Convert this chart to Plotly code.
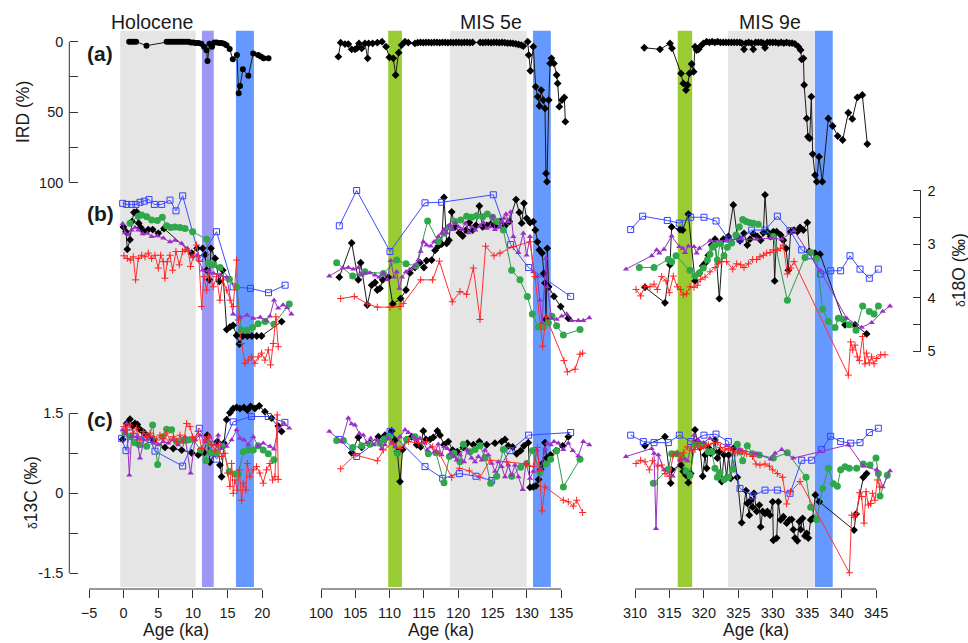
import plotly.graph_objects as go

# ---------------- DATA (age in ka, value) ----------------
# Holocene column
HOL_IRD = [(0.8,0),(1.1,0),(1.45,0),(1.8,0),(3.3,2.8),(6.2,0),(6.55,0),(6.9,0),(7.25,0),(7.6,0),(7.95,0),(8.3,0),(8.65,0),(9.0,0),(9.35,0),(9.7,0.5),(10.05,0.5),(10.4,1),(10.8,1),(11.2,1.5),(11.6,3.5),(11.95,6),(12.1,13.7),(12.4,1.5),(12.75,3.5),(13.1,0.5),(13.45,0.5),(13.8,1),(14.15,1),(14.5,1.5),(14.85,2.5),(15.3,5.2),(15.75,12.5),(16.35,9.4),(16.6,36.6),(16.8,31.4),(17.2,19.6),(18.0,24.1),(18.7,8.3),(19.4,9.4),(19.8,10.5),(20.2,11.8),(20.9,11.8)]

HOL_O_BLACK = [(-0.04,2.68),(0.34,2.77),(0.53,3.10),(0.92,2.92),(1.2,2.58),(1.49,2.41),(1.88,2.40),(2.17,2.61),(2.46,2.69),(2.94,2.77),(3.56,2.73),(4.19,2.73),(5.0,2.80),(5.82,2.71),(9.82,3.17),(10.6,3.08),(11.4,3.08),(11.74,3.20),(11.98,3.49),(12.36,3.67),(12.6,3.08),(13.2,3.27),(13.8,3.70),(14.3,3.49),(14.87,4.60),(15.35,4.55),(15.8,4.52),(16.3,4.71),(16.7,4.87),(17.2,4.72),(17.85,4.72),(18.5,4.72),(19.2,4.72),(19.9,4.72),(22.8,4.45)]
HOL_O_BLUE = [(-0.14,2.24),(0.44,2.26),(1.16,2.26),(1.78,2.26),(2.36,2.22),(2.98,2.20),(3.66,2.17),(4.43,2.26),(5.49,2.26),(6.69,2.18),(7.55,2.38),(8.52,2.10),(11.0,3.27),(13.4,2.77),(15.8,3.80),(18.3,3.83),(20.9,3.91),(23.3,3.77)]
HOL_O_GREEN = [(0.92,2.61),(2.12,2.48),(2.6,2.46),(3.33,2.49),(4.04,2.55),(4.86,2.56),(5.58,2.50),(6.2,2.66),(6.78,2.69),(7.41,2.68),(8.13,2.69),(8.85,2.71),(9.96,2.77),(11.98,2.91),(12.2,3.36),(13.0,3.39),(13.9,3.44),(15.25,3.66),(16.3,3.81),(17.0,4.61),(17.8,4.61),(18.6,4.56),(19.4,4.49),(20.4,4.45),(21.7,4.50),(23.9,4.12)]
HOL_O_PURPLE = [(-0.14,2.62),(0.19,2.79),(0.68,2.83),(1.16,2.74),(1.64,2.69),(2.12,2.74),(2.75,2.81),(3.41,2.80),(4.04,2.86),(4.86,2.85),(5.73,2.89),(6.69,2.96),(7.41,2.93),(8.37,2.99),(9.2,3.08),(9.96,3.24),(10.6,3.21),(11.4,3.49),(12.2,3.50),(13.0,3.55),(13.9,3.58),(14.87,3.62),(15.8,4.31),(16.8,4.37),(17.8,4.33),(18.7,4.39),(19.7,4.37),(20.6,4.43),(21.1,4.35),(21.7,4.05),(22.3,4.20),(23.0,4.14),(23.6,4.19),(24.2,4.31)]
HOL_O_RED = [(0.05,3.22),(0.53,3.27),(1.01,3.30),(1.39,3.24),(1.73,3.67),(2.12,3.27),(2.6,3.21),(3.08,3.24),(3.56,3.17),(4.04,3.27),(4.52,3.21),(5.0,3.45),(5.34,3.21),(5.72,3.33),(5.96,3.64),(6.3,3.33),(6.68,3.21),(7.07,3.49),(7.55,3.14),(8.03,3.39),(8.51,3.14),(8.85,3.11),(9.33,3.14),(9.66,3.42),(10.05,3.24),(10.53,3.02),(10.87,3.30),(11.25,4.17),(11.59,3.61),(11.97,3.86),(12.36,3.55),(12.93,3.80),(13.41,3.61),(13.89,4.05),(14.28,3.67),(14.86,3.86),(15.34,4.05),(15.82,4.17),(16.3,3.30),(16.54,4.42),(17.02,4.86),(17.5,5.23),(17.98,5.17),(18.46,5.11),(18.94,5.23),(19.42,5.11),(19.9,5.04),(20.38,5.17),(20.87,4.98),(21.2,5.26),(21.59,4.86),(21.97,4.36),(22.31,4.92)]

HOL_C_BLACK = [(-0.14,1.01),(0.43,1.31),(0.91,1.39),(1.3,1.26),(1.63,1.31),(1.97,1.29),(2.36,1.2),(2.93,1.14),(3.56,1.06),(4.28,0.99),(5.96,0.86),(7.16,0.84),(8.37,0.81),(9.8,0.76),(10.77,0.72),(11.59,0.76),(12.07,1.09),(12.45,0.58),(13.17,0.75),(13.51,0.97),(13.89,0.53),(14.13,0.31),(14.47,0.94),(14.86,1.38),(15.34,1.51),(15.82,1.59),(16.3,1.61),(16.78,1.59),(17.36,1.61),(17.84,1.56),(18.32,1.63),(18.94,1.59),(19.57,1.64),(20.38,1.53),(21.35,1.41),(22.31,1.26),(22.79,1.16)]
HOL_C_BLUE = [(-0.29,1.03),(0.34,0.80),(0.91,1.13),(1.63,1.06),(2.36,1.0),(3.08,1.06),(3.8,1.01),(4.52,0.79),(8.51,0.51),(10.91,1.22),(13.41,0.64),(15.82,1.34),(18.46,1.44),(20.87,1.44),(23.27,1.33)]
HOL_C_GREEN = [(0.19,1.13),(0.91,1.06),(1.63,0.95),(2.26,0.91),(3.32,0.88),(4.18,1.28),(4.9,0.54),(5.63,1.06),(6.2,1.2),(6.92,1.19),(7.64,0.97),(8.51,1.0),(9.33,1.0),(10.05,1.01),(11.1,0.81),(11.88,0.61),(12.21,0.94),(12.55,0.76),(13.32,0.76),(14.28,0.88),(15.24,0.41),(16.06,0.36),(16.54,0.36),(17.26,0.78),(17.98,0.81),(18.7,0.81),(19.42,0.89),(20.14,0.81),(20.87,0.74),(21.68,0.63)]
HOL_C_PURPLE = [(-0.14,1.19),(0.19,1.13),(0.43,1.31),(0.82,0.34),(1.15,1.06),(1.88,1.06),(2.36,0.66),(2.93,1.0),(3.56,1.03),(4.28,0.94),(5.0,0.91),(5.72,0.97),(6.44,0.94),(7.16,1.0),(7.88,0.91),(8.85,1.06),(9.66,0.38),(10.29,1.0),(11.01,1.09),(11.73,0.97),(12.45,1.06),(13.17,0.91),(13.65,1.09),(14.13,0.84),(14.86,0.88),(15.58,1.0),(16.3,1.19),(16.78,1.03),(17.36,1.0),(17.98,0.91),(18.7,1.06),(19.42,0.88),(20.14,0.94),(21.11,0.88),(21.68,0.83),(22.31,1.22),(23.13,1.31),(23.89,1.22)]
HOL_C_RED = [(0.05,1.25),(0.43,1.19),(0.91,1.28),(1.39,1.13),(1.88,1.22),(2.36,1.0),(2.84,1.16),(3.32,1.06),(3.8,1.13),(4.28,1.06),(4.76,1.0),(5.24,1.09),(5.72,1.03),(6.2,1.13),(6.68,1.0),(7.16,1.06),(7.64,0.97),(8.13,1.09),(8.61,0.94),(9.09,1.31),(9.57,1.25),(9.95,1.06),(10.29,1.0),(10.77,1.16),(11.25,0.84),(11.73,1.0),(12.21,1.06),(12.69,0.91),(13.17,0.81),(13.65,0.91),(14.13,0.69),(14.62,0.75),(15.0,0.38),(15.34,0.13),(15.58,0.56),(15.82,0.0),(16.06,0.25),(16.39,0.06),(16.68,0.44),(17.02,-0.13),(17.26,0.19),(17.64,0.06),(17.84,0.56),(18.22,0.31),(18.7,0.44),(19.18,0.5),(19.66,0.38),(20.14,0.19),(20.62,0.44),(21.11,0.56),(21.49,0.25),(21.83,0.31),(22.16,1.47),(22.31,0.26)]

# MIS 5e column
M5_IRD = [(102.53,10.6),(102.87,0.7),(103.5,1.7),(103.98,1.7),(104.47,5.4),(104.96,5.4),(105.3,4.3),(105.54,1.2),(105.93,4.7),(106.41,1.2),(106.8,11.8),(106.95,1.2),(107.53,1.2),(108.21,0.7),(108.89,0),(109.48,3.5),(109.96,11.1),(110.54,11.8),(110.88,23.6),(111.32,7.8),(111.76,2.4),(112.24,0),(112.73,0.7),(113.7,1.2),(114.1,0.7),(114.5,0.5),(114.9,0.7),(115.3,0.5),(115.7,0.5),(116.1,0.7),(116.5,0.5),(116.9,0.5),(117.3,0.7),(117.7,0.5),(118.1,0.5),(118.5,0.7),(118.9,0.5),(119.3,0.7),(119.7,0.5),(120.1,0.5),(120.5,0.7),(120.9,0.5),(121.3,0.5),(121.7,0.7),(122.1,0.5),(123.2,0.5),(123.6,0.7),(124.0,0.5),(124.4,0.5),(124.8,0.7),(125.2,0.5),(125.6,0.5),(126.0,0.7),(126.4,0.5),(126.8,0.7),(127.2,1.0),(127.6,1.0),(128.0,1.2),(128.4,1.5),(128.8,2.0),(129.2,2.4),(129.5,3.1),(130.13,0),(130.27,9.5),(130.52,20.6),(130.95,3.5),(131.29,31.9),(131.58,39.0),(131.83,45.6),(132.1,34.3),(132.4,41.4),(132.65,47.3),(132.8,93.4),(132.94,99.3),(133.2,41.4),(133.4,15.4),(133.6,11.8),(133.96,15.4),(134.35,23.6),(134.5,29.6),(134.74,46.1),(135.13,41.4),(135.47,39.5),(135.62,56.7)]

M5_O_BLACK = [(102.67,3.62),(104.47,2.98),(105.44,3.67),(105.78,3.35),(106.75,4.14),(107.39,3.77),(107.87,3.72),(108.21,3.86),(108.6,3.83),(108.99,3.67),(109.82,3.62),(110.45,4.12),(111.61,4.02),(112.39,3.86),(112.97,3.54),(113.7,3.44),(114.43,3.35),(115.01,3.44),(115.4,3.31),(116.13,3.30),(116.62,3.12),(117.1,3.04),(117.59,3.0),(117.93,2.13),(118.32,2.99),(118.66,2.93),(119.05,2.40),(119.53,2.68),(120.17,2.79),(120.65,2.85),(121.14,2.74),(121.62,2.60),(122.11,2.74),(122.59,2.65),(123.08,2.29),(123.57,2.68),(124.15,2.65),(124.73,2.63),(125.36,2.66),(126.09,2.58),(126.82,2.66),(127.45,2.58),(128.43,2.17),(128.91,2.41),(129.25,2.61),(129.59,2.24),(129.98,2.52),(130.47,2.60),(130.95,2.58),(131.24,2.74),(131.54,2.96),(131.83,3.11),(132.22,3.17),(132.46,3.55),(132.65,3.73),(132.8,4.41),(132.99,3.08),(133.19,3.80),(133.96,3.98),(134.94,4.17),(136.05,4.39)]
M5_O_BLUE = [(102.67,2.66),(105.2,2.0),(110.06,3.14),(115.16,2.23),(117.59,2.22),(125.12,2.08),(127.65,3.01),(130.27,3.44),(136.39,3.98)]
M5_O_GREEN = [(102.28,3.35),(104.62,3.60),(106.41,3.52),(109.09,3.55),(111.03,3.30),(112.39,3.37),(113.85,3.41),(115.55,2.57),(117.1,2.96),(117.93,2.80),(118.71,2.68),(119.53,2.58),(120.36,2.55),(121.23,2.48),(121.96,2.50),(122.69,2.47),(123.57,2.49),(124.25,2.44),(125.02,2.50),(125.7,2.58),(126.58,2.74),(127.79,3.49),(129.0,3.67),(130.08,3.98),(130.81,4.31),(131.68,4.55),(132.41,4.55),(133.14,4.47),(133.67,4.35),(134.35,4.53),(135.33,4.70),(137.76,4.60)]
M5_O_PURPLE = [(101.21,3.60),(103.16,3.45),(103.98,3.44),(104.71,3.47),(105.44,3.44),(105.93,3.58),(106.41,3.54),(107.14,3.54),(107.87,3.58),(108.5,3.62),(109.09,3.55),(109.67,3.67),(110.16,3.31),(110.64,3.62),(111.03,3.52),(111.42,3.83),(111.81,3.62),(112.39,3.52),(112.97,3.47),(113.7,3.41),(114.19,3.30),(114.53,3.14),(114.92,2.96),(115.4,3.02),(115.99,3.04),(116.47,2.96),(117.1,2.86),(117.59,2.80),(117.93,2.73),(118.32,2.79),(118.71,2.65),(119.19,2.73),(119.58,2.61),(120.07,2.68),(120.55,2.73),(121.04,2.61),(121.53,2.79),(122.01,2.68),(122.5,2.74),(123.18,2.66),(123.66,2.60),(124.15,2.71),(124.64,2.68),(125.02,2.48),(125.36,2.73),(126.0,2.69),(126.38,2.58),(126.68,2.52),(126.97,2.44),(127.31,2.58),(127.65,2.40),(128.04,2.86),(128.77,3.16),(129.49,2.80),(129.98,3.21),(130.47,2.86),(130.95,3.52),(131.54,3.61),(131.93,4.05),(132.22,4.47),(132.8,3.27),(132.99,3.80),(133.62,4.39),(134.35,4.41),(135.08,4.35),(135.81,4.31),(136.54,4.43),(137.51,4.43),(138.24,4.43),(139.11,4.38)]
M5_O_RED = [(102.87,4.02),(104.86,3.98),(106.8,4.12),(108.21,4.18),(110.06,4.18),(111.52,4.17),(112.0,4.11),(114.53,3.67),(116.28,3.67),(117.25,3.32),(119.14,4.08),(120.26,3.89),(121.23,3.94),(122.21,3.45),(123.18,4.41),(124.0,3.04),(125.22,3.22),(126.09,3.17),(128.04,3.05),(130.47,2.96),(131.2,3.61),(132.31,4.91),(132.8,4.36),(135.42,5.18),(135.91,5.39),(137.03,5.34),(137.76,5.06),(138.14,5.04)]

M5_C_BLACK = [(104.47,0.76),(105.44,1.05),(105.93,0.86),(107.14,0.94),(108.36,1.06),(109.33,1.09),(110.3,1.17),(110.79,1.0),(111.13,0.78),(111.52,0.22),(111.9,0.82),(112.49,1.01),(113.22,1.06),(113.95,0.91),(114.53,0.87),(114.92,1.17),(115.31,1.01),(115.89,1.01),(116.38,1.05),(116.96,1.17),(117.35,1.09),(117.93,0.91),(118.56,0.97),(119.19,0.81),(119.87,0.78),(120.75,0.86),(121.33,0.94),(122.21,0.91),(123.08,0.97),(124.15,0.91),(125.36,0.94),(126.34,0.97),(126.82,1.01),(127.31,0.89),(127.94,0.87),(128.52,0.74),(129.1,0.8),(129.59,0.89),(130.22,0.95),(130.47,0.11),(130.95,0.12),(131.34,0.14),(131.73,0.26),(132.02,0.45),(132.31,0.56),(132.65,0.95),(132.9,0.66),(133.48,0.72),(134.26,0.8),(135.23,0.89),(136.05,1.06)]
M5_C_BLUE = [(102.67,1.01),(105.2,0.69),(110.06,1.16),(115.16,0.5),(117.74,0.28),(120.17,0.37),(122.59,0.32),(124.88,0.24),(127.55,0.8),(130.27,1.09),(136.39,1.14)]
M5_C_GREEN = [(102.28,0.99),(103.26,0.99),(104.62,0.86),(105.93,0.89),(107.14,0.92),(108.6,0.94),(109.18,1.01),(109.96,1.06),(111.13,0.75),(112.49,1.01),(113.7,1.06),(115.65,0.74),(116.76,0.76),(117.93,0.2),(118.71,0.69),(119.39,0.75),(120.26,0.59),(120.75,0.92),(121.72,0.78),(122.45,0.82),(123.18,0.89),(123.91,0.67),(124.73,0.19),(125.61,0.32),(126.58,0.82),(127.79,0.32),(129.1,0.49),(129.98,0.56),(130.81,0.8),(131.93,0.39),(132.8,0.55),(133.48,0.64),(134.35,0.8),(135.33,0.12),(137.76,0.64)]
M5_C_PURPLE = [(101.21,1.16),(103.01,0.97),(103.98,1.41),(104.47,1.3),(104.96,1.28),(105.59,1.12),(106.17,1.09),(106.66,0.95),(107.24,1.03),(107.73,0.91),(108.21,1.0),(108.84,0.84),(109.33,0.91),(109.82,1.03),(110.3,0.94),(110.79,0.87),(111.52,1.06),(112.24,1.19),(112.73,1.14),(113.46,1.06),(113.95,1.0),(114.43,1.03),(115.01,0.94),(115.5,0.81),(115.99,0.87),(116.62,0.78),(117.1,0.92),(117.59,0.72),(117.93,0.87),(118.42,0.84),(118.9,0.75),(119.39,0.69),(119.78,0.62),(120.26,0.72),(120.85,0.59),(121.33,0.81),(121.96,0.66),(122.45,0.59),(122.93,0.69),(123.42,0.62),(123.91,0.81),(124.39,0.72),(124.88,0.56),(125.36,0.41),(125.85,0.59),(126.34,0.5),(126.82,0.31),(127.31,0.53),(127.79,0.34),(128.28,0.53),(128.77,0.31),(129.4,0.07),(129.88,0.56),(130.47,0.28),(130.95,0.41),(131.44,0.81),(132.02,0.44),(132.65,0.84),(132.99,0.94),(133.48,0.91),(133.96,0.97),(134.6,0.94),(135.33,0.82),(136.05,0.94),(136.69,0.8),(137.51,0.7),(138.24,0.97),(139.11,0.91)]
M5_C_RED = [(102.87,0.46),(104.96,0.72),(108.21,0.61),(109.09,0.81),(110.54,0.94),(111.52,0.84),(112.73,0.97),(114.19,0.94),(115.4,0.97),(116.28,0.87),(117.25,0.75),(119.05,0.3),(120.17,0.47),(121.62,0.42),(123.18,0.3),(124.64,0.62),(127.07,0.59),(129.98,0.55),(130.95,0.5),(131.54,0.86),(131.83,0.42),(132.22,-0.33),(132.65,0.12),(135.33,-0.13),(136.05,-0.16),(136.78,-0.24),(137.27,-0.13),(138.14,-0.36)]

# MIS 9e column
M9_IRD = [(311.35,4.3),(313.63,5.4),(315.08,1.2),(315.37,4.7),(316.68,22.5),(317.01,29.6),(317.4,34.3),(317.64,30.7),(317.89,22.5),(318.22,15.8),(318.51,21.3),(318.71,3.5),(318.95,5.9),(319.24,5.4),(319.53,3.1),(319.92,1.2),(320.4,0),(320.8,0.5),(321.2,0),(321.6,0.5),(322.0,0),(322.4,0.5),(322.8,0.5),(323.2,0.5),(323.6,0.5),(324.0,0.5),(324.4,0.5),(324.8,0.5),(325.2,0.5),(325.5,1),(325.82,5.4),(326.1,1),(326.5,0.5),(326.9,1),(327.17,5.4),(327.5,0.5),(327.9,0.5),(328.3,0.5),(328.6,1),(328.87,4.3),(329.2,0.5),(329.6,0.5),(330.0,0.5),(330.4,0.5),(330.8,1),(331.2,0.5),(331.6,1),(332.0,0.5),(332.4,1),(332.8,1),(333.2,1.5),(333.71,3.5),(334.04,5.9),(334.19,12.5),(334.45,11.8),(334.55,30.7),(334.92,54.4),(335.11,67.4),(335.35,68.6),(335.59,39.0),(335.79,79.7),(336.13,94.6),(336.37,99.3),(336.71,81.6),(337.19,99.3),(338.06,54.4),(338.69,59.8),(339.42,66.9),(340.14,69.7),(340.96,50.4),(341.54,54.8),(342.27,39.5),(342.99,37.8),(343.72,72.6)]

M9_O_BLACK = [(311.45,3.81),(314.35,4.10),(315.08,3.39),(315.32,2.68),(316.53,2.73),(316.92,2.74),(317.74,2.44),(318.71,3.69),(319.34,3.54),(319.82,3.41),(320.16,3.36),(320.64,3.21),(321.13,3.02),(321.61,2.91),(322.24,4.02),(322.82,2.91),(323.55,2.86),(324.27,2.27),(324.85,2.86),(325.24,2.94),(325.82,2.80),(326.3,3.02),(326.69,2.91),(327.17,2.81),(327.76,2.86),(328.24,2.93),(328.63,2.79),(328.87,2.08),(329.21,2.77),(329.69,2.86),(330.08,2.77),(330.27,3.69),(330.56,2.77),(331.14,2.83),(331.53,2.93),(331.92,3.08),(332.25,3.49),(332.59,2.77),(333.08,2.74),(333.56,2.77),(333.95,2.69),(334.43,2.74),(335.01,2.60),(335.3,3.14),(336.12,3.17),(336.85,3.19),(340.48,4.51),(341.93,4.51),(343.62,4.68)]
M9_O_BLUE = [(309.37,2.73),(311.11,2.48),(314.69,2.56),(316.43,2.61),(318.08,2.50),(320.01,2.50),(321.76,2.57),(323.55,2.91),(325.24,2.91),(326.93,2.74),(328.87,2.74),(330.66,2.48),(332.5,2.75),(334.19,3.11),(335.5,3.22),(336.95,3.56),(338.4,3.50),(339.85,3.50),(341.2,3.22),(342.66,3.47),(344.01,3.64),(345.32,3.47)]
M9_O_GREEN = [(310.63,3.44),(312.76,3.44),(314.84,3.29),(315.32,3.33),(315.95,3.22),(317.98,3.49),(318.71,3.60),(319.34,3.54),(319.92,3.45),(320.5,3.30),(320.89,3.19),(321.27,3.06),(321.61,3.02),(321.95,3.30),(322.34,2.99),(322.92,3.22),(323.4,3.06),(324.03,2.98),(324.66,2.83),(325.14,2.68),(325.63,2.54),(326.11,2.58),(326.59,2.60),(327.17,2.61),(327.9,2.63),(330.08,2.86),(332.11,4.05),(334.67,3.25),(335.5,3.16),(336.37,3.27),(337.24,4.22),(338.06,4.45),(339.03,4.56),(339.51,4.39),(340.24,4.41),(341.11,4.51),(342.08,4.61),(343.04,4.16),(344.01,4.26),(344.69,4.31),(345.32,4.16)]
M9_O_PURPLE = [(308.69,3.47),(312.42,3.22),(313.14,3.11),(313.53,3.17),(314.21,3.10),(315.32,2.85),(316.43,3.05),(316.92,3.08),(317.26,3.16),(317.74,3.04),(318.56,3.05),(318.95,3.17),(319.34,3.08),(320.89,2.94),(323.3,2.93),(325.24,2.91),(327.66,2.91),(329.69,2.89),(331.29,2.91),(333.08,2.75),(336.85,3.49),(340.72,4.39),(342.9,4.56),(344.35,4.47),(345.95,4.26),(347.01,4.16)]
M9_O_RED = [(310.15,3.85),(310.82,3.97),(311.45,3.79),(312.18,3.80),(312.76,3.75),(313.24,3.85),(313.87,3.61),(314.5,3.69),(314.98,3.91),(315.56,3.60),(316.14,3.80),(316.63,3.85),(317.01,3.95),(317.5,3.93),(317.98,3.80),(318.56,3.81),(319.05,3.77),(319.53,3.66),(320.16,3.62),(320.89,3.52),(321.61,3.44),(322.09,3.37),(322.58,3.33),(323.3,3.33),(324.18,3.47),(324.76,3.37),(325.34,3.39),(325.82,3.44),(326.45,3.37),(327.08,3.29),(327.66,3.29),(328.14,3.24),(328.63,3.21),(329.11,3.17),(329.59,3.16),(330.08,3.11),(330.66,3.12),(331.14,3.08),(331.53,3.02),(332.11,3.56),(332.59,3.45),(333.08,3.33),(340.96,5.45),(341.3,4.83),(341.59,4.98),(341.93,4.89),(342.27,5.11),(342.56,5.18),(343.04,4.73),(343.38,5.24),(343.62,5.04),(344.01,5.22),(344.35,5.11),(344.69,5.24),(345.08,5.14),(345.66,5.07),(346.28,5.07)]

M9_C_BLACK = [(311.45,0.89),(314.35,1.06),(315.18,0.19),(315.32,0.44),(316.68,0.53),(317.01,0.41),(317.4,0.34),(317.74,0.2),(318.08,0.37),(318.71,1.19),(319.05,0.97),(319.43,0.86),(319.82,0.32),(320.16,0.72),(320.4,0.47),(320.64,0.86),(320.98,0.75),(321.37,0.78),(321.61,1.0),(321.95,0.66),(322.24,0.78),(322.58,0.22),(322.92,0.72),(323.3,0.3),(323.59,0.72),(323.88,0.28),(324.27,0.84),(324.85,0.3),(325.48,-0.55),(326.11,0.05),(326.3,-0.19),(326.59,-0.41),(326.79,-0.13),(327.08,-0.26),(327.27,0.0),(327.66,-0.34),(328.05,-0.22),(328.24,-0.63),(328.53,-0.34),(328.87,-0.38),(329.21,-0.34),(329.59,-0.41),(329.98,-0.16),(330.08,-0.88),(330.56,-0.84),(330.8,-0.16),(331.14,-0.5),(331.53,-0.44),(332.01,-0.56),(332.4,-0.5),(332.74,-0.49),(332.98,-0.68),(333.22,-0.84),(333.56,-0.89),(333.85,-0.53),(334.04,-0.68),(334.33,-0.47),(334.67,-0.8),(334.92,-0.75),(335.16,-0.84),(335.5,-0.5),(335.79,-0.47),(336.17,-0.03),(336.75,-0.16),(341.79,-0.69),(342.08,-0.39),(343.14,0.3),(343.62,0.37)]
M9_C_BLUE = [(309.37,1.09),(311.21,0.97),(312.76,0.95),(314.84,0.95),(316.43,1.09),(318.08,0.97),(320.01,1.09),(321.76,1.11),(323.55,0.97),(325.24,0.09),(327.08,-0.05),(328.87,0.06),(330.66,0.06),(332.5,0.0),(334.19,0.62),(335.64,0.62),(337.09,0.82),(338.4,1.07),(339.85,0.97),(341.3,0.94),(342.66,0.95),(344.01,1.14),(345.32,1.22)]
M9_C_GREEN = [(312.66,0.19),(314.84,0.45),(315.32,0.74),(316.05,0.74),(316.77,0.69),(317.4,0.42),(317.98,0.34),(318.71,0.91),(319.34,0.91),(320.01,0.92),(320.64,0.78),(321.13,0.78),(321.61,0.47),(321.95,0.3),(322.34,0.39),(322.92,0.26),(323.55,0.3),(324.18,0.45),(324.85,0.92),(325.24,0.78),(325.63,0.61),(326.3,0.89),(327.08,0.74),(328.05,0.72),(330.08,0.66),(332.11,0.76),(334.82,0.3),(335.5,-0.26),(336.37,-0.49),(337.24,0.09),(338.06,0.47),(338.79,0.18),(339.37,0.13),(339.85,0.44),(340.48,0.5),(341.11,0.47),(342.17,0.47),(343.14,0.55),(344.11,0.53),(344.98,0.66),(345.32,0.37),(345.56,-0.05),(346.62,0.34)]
M9_C_PURPLE = [(308.69,0.69),(312.42,0.84),(312.76,0.75),(313.05,-0.66),(313.39,0.72),(314.21,0.44),(315.47,0.32),(316.53,0.62),(317.26,0.64),(317.6,0.61),(318.56,1.09),(319.19,1.0),(319.92,0.95),(320.89,1.03),(323.3,0.89),(325.24,0.82),(327.66,0.74),(329.69,0.64),(330.32,0.75),(331.29,0.82),(332.98,0.66),(336.85,0.78),(340.96,0.91),(343.14,0.51),(345.08,0.44),(345.95,0.12),(347.01,0.42)]
M9_C_RED = [(310.15,0.56),(310.82,0.62),(311.45,0.59),(312.08,0.44),(312.56,0.61),(313.24,0.51),(313.87,0.53),(314.35,0.37),(314.98,0.32),(315.56,0.72),(316.14,0.75),(316.63,0.64),(317.01,0.76),(317.6,0.87),(318.22,0.81),(318.71,0.82),(319.05,0.94),(319.53,0.84),(320.01,0.87),(320.64,0.91),(321.37,0.94),(321.95,0.95),(322.43,0.86),(323.06,0.81),(323.55,0.84),(324.18,0.8),(324.85,0.76),(325.63,0.78),(326.21,0.74),(327.08,0.69),(327.56,0.55),(328.14,0.53),(328.87,0.55),(329.5,0.51),(329.98,0.44),(330.66,0.37),(331.43,0.3),(332.01,-0.2),(332.59,0.03),(333.95,0.22),(341.11,-1.49),(341.45,-0.41),(341.79,-0.45),(342.17,-0.38),(342.56,0.01),(342.9,-0.06),(343.24,-0.56),(343.53,0.03),(343.87,-0.22),(344.2,-0.19),(344.49,0.0),(344.83,-0.13),(345.17,0.25),(345.56,0.12)]

# shaded intervals per column: (start, end, kind)
HOL_BANDS = [(-0.5, 10.4, "gray"), (11.3, 13.0, "lavender"), (16.2, 18.8, "blue")]
M5_BANDS = [(109.8, 111.8, "green"), (118.8, 130.0, "gray"), (130.9, 133.5, "blue")]
M9_BANDS = [(316.2, 318.3, "green"), (323.5, 336.0, "gray"), (336.1, 338.7, "blue")]

COLUMN_TITLES = ["Holocene", "MIS 5e", "MIS 9e"]
X_TICKS = [[-5, 0, 5, 10, 15, 20],
           [100, 105, 110, 115, 120, 125, 130, 135],
           [310, 315, 320, 325, 330, 335, 340, 345]]
IRD_TICKS = [0, 25, 50, 75, 100]
IRD_TICKTEXT = ["0", "", "50", "", "100"]
O18_TICKS = [2, 2.5, 3, 3.5, 4, 4.5, 5]
O18_TICKTEXT = ["2", "", "3", "", "4", "", "5"]
C13_TICKS = [-1.5, -0.75, 0, 0.75, 1.5]
C13_TICKTEXT = ["-1.5", "", "0", "", "1.5"]

# ---------------- LAYOUT GEOMETRY (pixels) ----------------
W, H = 968, 643
FONT = "Arial, Liberation Sans, sans-serif"
AX = "#333333"
TXT = "#1a1a1a"

def fx(px):
    return px / W

def fy(py):
    return 1 - py / H

COLS = [
    dict(px0=89.0, v0=-5, ppk=6.93, rng=(-8, 25)),
    dict(px0=321.0, v0=100, ppk=6.86, rng=(97, 140)),
    dict(px0=635.0, v0=310, ppk=6.89, rng=(307, 348)),
]
IRD_P0, IRD_S = 41.7, 1.41
O18_P0, O18_S = 190.5, 53.5
C13_P0, C13_S = 493.3, -53.33

def yrange(p0, v0, s):
    top = v0 + (0 - p0) / s
    bot = v0 + (H - p0) / s
    return [bot, top]

XAXIS_PX = 589
BAND_TOP, BAND_BOT = 30.7, 587

fig = go.Figure()

BAND_COLORS = {"gray": "#e5e5e5", "lavender": "#9b98f6", "blue": "#6699ff", "green": "#99cc33"}

styles = {
    "black": dict(mode="lines+markers", line=dict(color="#1a1a1a", width=1),
                  marker=dict(symbol="diamond", size=6, color="black", line=dict(width=0))),
    "blue": dict(mode="lines+markers", line=dict(color="#3a4cff", width=1),
                 marker=dict(symbol="square-open", size=6, color="#3340ff", line=dict(width=1))),
    "green": dict(mode="lines+markers", line=dict(color="#2f9a4c", width=1),
                  marker=dict(symbol="circle", size=7, color="#2fa84a", line=dict(width=0))),
    "purple": dict(mode="lines+markers", line=dict(color="#9a2fc4", width=1),
                   marker=dict(symbol="triangle-up", size=5.5, color="#9b30c8", line=dict(width=0))),
    "red": dict(mode="lines+markers", line=dict(color="#ff3030", width=1),
                marker=dict(symbol="cross-thin", size=5, color="#ff2020", line=dict(width=1, color="#ff2020"))),
}

def add(series, style, xa, ya, symbol=None):
    xs = [p[0] for p in series]
    ys = [p[1] for p in series]
    st = {k: (dict(v) if isinstance(v, dict) else v) for k, v in styles[style].items()}
    if symbol:
        st["marker"] = dict(st["marker"], symbol=symbol)
    fig.add_trace(go.Scatter(x=xs, y=ys, xaxis=xa, yaxis=ya, showlegend=False,
                             hoverinfo="skip", **st))

columns = [
    ("x", HOL_IRD, [HOL_O_BLACK, HOL_O_BLUE, HOL_O_GREEN, HOL_O_PURPLE, HOL_O_RED],
     [HOL_C_BLACK, HOL_C_BLUE, HOL_C_GREEN, HOL_C_PURPLE, HOL_C_RED], HOL_BANDS, "circle"),
    ("x2", M5_IRD, [M5_O_BLACK, M5_O_BLUE, M5_O_GREEN, M5_O_PURPLE, M5_O_RED],
     [M5_C_BLACK, M5_C_BLUE, M5_C_GREEN, M5_C_PURPLE, M5_C_RED], M5_BANDS, None),
    ("x3", M9_IRD, [M9_O_BLACK, M9_O_BLUE, M9_O_GREEN, M9_O_PURPLE, M9_O_RED],
     [M9_C_BLACK, M9_C_BLUE, M9_C_GREEN, M9_C_PURPLE, M9_C_RED], M9_BANDS, None),
]
order = ["black", "blue", "green", "purple", "red"]

shapes = []
for (xa, ird, o18, c13, bands, irdsym) in columns:
    add(ird, "black", xa, "y", symbol=irdsym)
    for s, name in zip(o18, order):
        add(s, name, xa, "y2")
    for s, name in zip(c13, order):
        add(s, name, xa, "y3")
    for (a, b, kind) in bands:
        shapes.append(dict(type="rect", xref=xa, yref="paper", x0=a, x1=b,
                           y0=fy(BAND_BOT), y1=fy(BAND_TOP), fillcolor=BAND_COLORS[kind],
                           line=dict(width=0), layer="below"))

for i, xa in enumerate(["x", "x2", "x3"]):
    t = X_TICKS[i]
    shapes.append(dict(type="line", xref=xa, yref="paper", x0=t[0], x1=t[-1],
                       y0=fy(XAXIS_PX), y1=fy(XAXIS_PX), line=dict(color=AX, width=1)))
shapes.append(dict(type="line", xref="paper", yref="paper", x0=fx(69.3), x1=fx(69.3),
                   y0=fy(IRD_P0), y1=fy(IRD_P0 + 100 * IRD_S), line=dict(color=AX, width=1)))
shapes.append(dict(type="line", xref="paper", yref="paper", x0=fx(69.3), x1=fx(69.3),
                   y0=fy(C13_P0 + 1.5 * C13_S), y1=fy(C13_P0 - 1.5 * C13_S), line=dict(color=AX, width=1)))
shapes.append(dict(type="line", xref="paper", yref="paper", x0=fx(920.5), x1=fx(920.5),
                   y0=fy(O18_P0), y1=fy(O18_P0 + 3 * O18_S), line=dict(color=AX, width=1)))

tickfont = dict(family=FONT, size=14.5, color=TXT)
layout = dict(
    width=W, height=H, autosize=False,
    margin=dict(l=0, r=0, t=0, b=0, pad=0),
    paper_bgcolor="white", plot_bgcolor="rgba(0,0,0,0)",
    showlegend=False, shapes=shapes,
    font=dict(family=FONT, color=TXT),
)
for i, key in enumerate(["xaxis", "xaxis2", "xaxis3"]):
    c = COLS[i]
    lo, hi = c["rng"]
    d0 = c["px0"] + (lo - c["v0"]) * c["ppk"]
    d1 = c["px0"] + (hi - c["v0"]) * c["ppk"]
    layout[key] = dict(domain=[fx(d0), fx(d1)], range=[lo, hi], anchor="free",
                       position=fy(XAXIS_PX), showgrid=False, zeroline=False, showline=False,
                       tickmode="array", tickvals=X_TICKS[i], ticks="outside", ticklen=8,
                       tickwidth=1, tickcolor=AX, tickfont=tickfont, ticklabelstandoff=3)

common_y = dict(domain=[0, 1], anchor="free", showgrid=False, zeroline=False, showline=False,
                tickmode="array", ticks="inside", ticklen=8, tickwidth=1, tickcolor=AX,
                tickfont=tickfont, ticklabelstandoff=6)
layout["yaxis"] = dict(common_y, range=yrange(IRD_P0, 0, IRD_S), position=fx(69.3), side="left",
                       tickvals=IRD_TICKS, ticktext=IRD_TICKTEXT)
layout["yaxis2"] = dict(common_y, range=yrange(O18_P0, 2, O18_S), position=fx(920.5), side="right",
                        tickvals=O18_TICKS, ticktext=O18_TICKTEXT)
layout["yaxis3"] = dict(common_y, range=yrange(C13_P0, 0, C13_S), position=fx(69.3), side="left",
                        tickvals=C13_TICKS, ticktext=C13_TICKTEXT)

ann = []
def txt(text, x, y, size, xref="paper", angle=0):
    ann.append(dict(text=text, x=x, y=y, xref=xref, yref="paper", showarrow=False,
                    xanchor="center", yanchor="middle", textangle=angle,
                    font=dict(family=FONT, size=size, color=TXT)))

for title, px in zip(COLUMN_TITLES, [152, 491, 770]):
    txt(title, fx(px), fy(22), 19.5)
txt("<b>(a)</b>", fx(100), fy(53), 21)
txt("<b>(b)</b>", fx(100), fy(214), 21)
txt("<b>(c)</b>", fx(100), fy(419), 21)
txt("IRD (%)", fx(23), fy(112), 17.5, angle=-90)
txt("<span style='font-size:12px'>δ</span>13C (‰)", fx(31), fy(492), 17.5, angle=-90)
txt("<span style='font-size:12px'>δ</span>18O (‰)", fx(959), fy(270), 17.5, angle=-90)
for i, xa in enumerate(["x", "x2", "x3"]):
    t = X_TICKS[i]
    txt("Age (ka)", (t[0] + t[-1]) / 2, fy(630), 17.5, xref=xa)
layout["annotations"] = ann

fig.update_layout(**layout)
fig.write_html("out.html")
